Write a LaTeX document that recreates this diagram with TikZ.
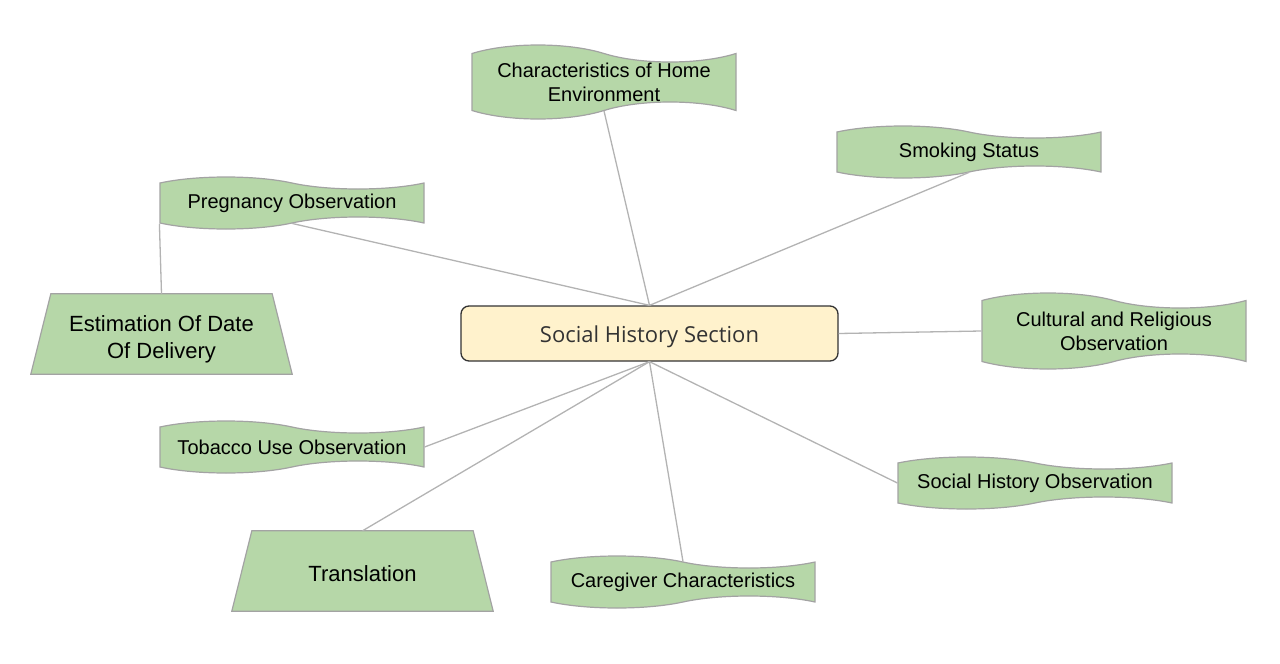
\documentclass[tikz,border=0pt]{standalone}
\usepackage{fontspec}
\setmainfont{Liberation Sans}
\newfontfamily\hubfont{Open Sans}
\usetikzlibrary{shapes.symbols,backgrounds}
\definecolor{leaf}{HTML}{B6D7A8}
\definecolor{leafline}{HTML}{A3A3A3}
\definecolor{hubfill}{HTML}{FFF2CC}
\definecolor{hubline}{HTML}{333333}
\definecolor{wire}{HTML}{B3B3B3}
\begin{document}
\begin{tikzpicture}[x=1pt,y=-1pt,
  wave/.style={tape,tape bend top=out and in,tape bend bottom=in and out,
    tape bend height=12pt,draw=leafline,fill=leaf,line width=1.2pt,
    inner sep=0pt,minimum width=264pt,minimum height=52pt,align=center,
    font=\fontsize{20}{24}\selectfont},
  trap/.style={rectangle,inner sep=0pt,minimum width=261pt,
    minimum height=80pt,align=center,font=\fontsize{22}{27}\selectfont},
  trapline/.style={draw=leafline,fill=leaf,line width=1.2pt},
  hub/.style={rectangle,rounded corners=8pt,draw=hubline,fill=hubfill,
    line width=1.3pt,minimum width=377pt,minimum height=55pt,
    text height=20pt,text depth=3pt,
    font=\hubfont\fontsize{22}{26}\selectfont,text=hubline},
  link/.style={draw=wire,line width=1.3pt}]
  \useasboundingbox (0,0) rectangle (1280,664);
  % leaves
  \node[wave,minimum height=74pt,tape bend height=17pt] (home) at (604,82) {Characteristics of Home\\Environment};
  \node[wave] (smoke) at (969,152) {Smoking Status};
  \node[wave] (preg) at (292,203) {Pregnancy Observation};
  \node[wave,minimum height=76pt,tape bend height=15pt] (cult) at (1114,331) {Cultural and Religious\\Observation};
  \node[wave,minimum width=274pt] (shobs) at (1035,483) {Social History Observation};
  \node[wave] (tob) at (292,447) {Tobacco Use Observation};
  \node[wave] (care) at (683,582) {Caregiver Characteristics};
  \node[trap,text height=48pt,text depth=0pt] (est) at (161.5,334) {Estimation Of Date\\Of Delivery};
  \node[trap,text height=21pt,text depth=0pt] (trans) at (362.5,571) {Translation};
  % trapezium outlines behind the texts
  \begin{scope}[on background layer]
    \foreach \t in {est,trans}
      \draw[trapline] ([xshift=20pt]\t.north west) -- ([xshift=-20pt]\t.north east)
        -- (\t.south east) -- (\t.south west) -- cycle;
  \end{scope}
  % centre
  \node[hub] (sec) at (649.5,333.5) {Social History Section};
  % links
  \draw[link] (sec.north) -- (home.south);
  \draw[link] (sec.north) -- (smoke.south);
  \draw[link] (sec.north) -- (preg.south);
  \draw[link] (sec.east) -- (cult.west);
  \draw[link] (sec.south) -- (shobs.west);
  \draw[link] (sec.south) -- (care.north);
  \draw[link] (sec.south) -- (trans.north);
  \draw[link] (sec.south) -- (tob.east);
  \draw[link] (preg.south west) -- (est.north);
\end{tikzpicture}
\end{document}
